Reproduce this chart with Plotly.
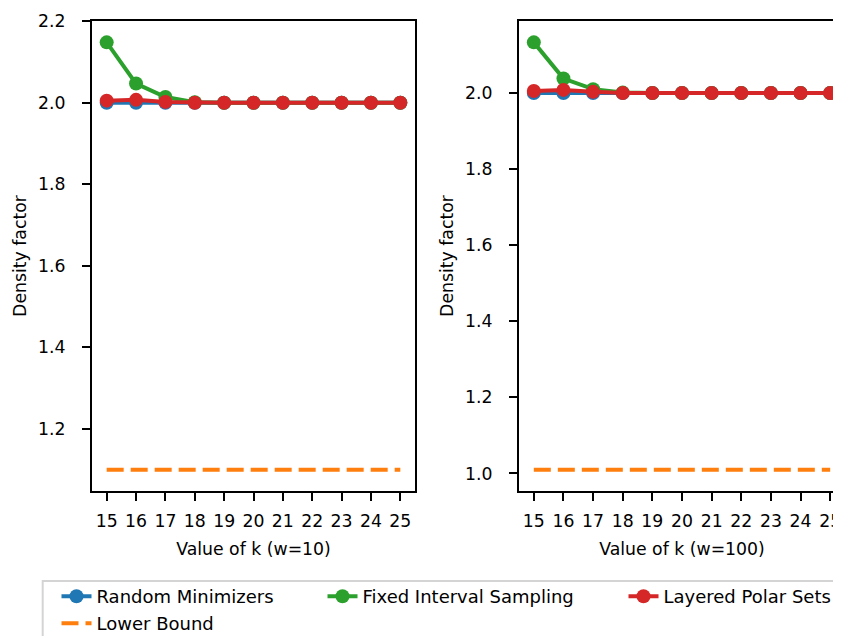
import plotly.graph_objects as go

k_values = [15, 16, 17, 18, 19, 20, 21, 22, 23, 24, 25]

# w = 10
random_w10 = [2.000, 2.000, 2.000, 2.000, 2.000, 2.000, 2.000, 2.000, 2.000, 2.000, 2.000]
fixed_w10 = [2.148, 2.047, 2.014, 2.001, 2.000, 2.000, 2.000, 2.000, 2.000, 2.000, 2.000]
polar_w10 = [2.005, 2.007, 2.002, 2.000, 2.000, 2.000, 2.000, 2.000, 2.000, 2.000, 2.000]
lower_w10 = [1.1] * 11

# w = 100
random_w100 = [2.000, 2.000, 2.000, 2.000, 2.000, 2.000, 2.000, 2.000, 2.000, 2.000, 2.000]
fixed_w100 = [2.133, 2.038, 2.010, 2.001, 2.000, 2.000, 2.000, 2.000, 2.000, 2.000, 2.000]
polar_w100 = [2.005, 2.008, 2.003, 2.000, 2.000, 2.000, 2.000, 2.000, 2.000, 2.000, 2.000]
lower_w100 = [1.01] * 11

series_names = ["Random Minimizers", "Fixed Interval Sampling", "Layered Polar Sets", "Lower Bound"]
colors = ["#1f77b4", "#2ca02c", "#d62728", "#ff7f0e"]
x_titles = ["Value of k (w=10)", "Value of k (w=100)"]
y_title = "Density factor"
yticks_w10 = [1.2, 1.4, 1.6, 1.8, 2.0, 2.2]
yticks_w100 = [1.0, 1.2, 1.4, 1.6, 1.8, 2.0]

W, H = 841, 636
OFF = 8  # page body margin offset
FONT = "DejaVu Sans"
FS = 17.3


def fx(xwin):
    return (xwin - OFF) / W


plot_top, plot_bot = 21 - OFF, 491 - OFF
ph = plot_bot - plot_top


def fy(ywin):
    return (plot_bot - (ywin - OFF)) / ph


fig = go.Figure()

panels = [
    (random_w10, fixed_w10, polar_w10, lower_w10, "x", "y", True),
    (random_w100, fixed_w100, polar_w100, lower_w100, "x2", "y2", False),
]
legend_widths = [221, 256, 190]
for rnd, fix, pol, low, xa, ya, show in panels:
    for i, vals in enumerate([rnd, fix, pol]):
        fig.add_trace(go.Scatter(
            x=k_values, y=vals, mode="lines+markers", name=series_names[i],
            line=dict(color=colors[i], width=4),
            marker=dict(color=colors[i], size=14),
            xaxis=xa, yaxis=ya, showlegend=show, legend="legend",
            legendwidth=legend_widths[i],
        ))
    fig.add_trace(go.Scatter(
        x=k_values, y=low, mode="lines", name=series_names[3],
        line=dict(color=colors[3], width=4, dash="17px,7px"),
        xaxis=xa, yaxis=ya, showlegend=show, legend="legend2",
    ))


def yrange(*arrs):
    lo = min(min(a) for a in arrs)
    hi = max(max(a) for a in arrs)
    m = 0.05 * (hi - lo)
    return [lo - m, hi + m]


axis_common = dict(
    showline=True, linecolor="black", linewidth=2,
    ticks="outside", ticklen=8, tickwidth=2, tickcolor="black",
    showgrid=False, zeroline=False, mirror=True,
    tickfont=dict(family=FONT, size=FS, color="black"),
)

fig.update_layout(
    width=W, height=H,
    margin=dict(l=0, r=0, t=plot_top, b=H - plot_bot, autoexpand=False),
    plot_bgcolor="white", paper_bgcolor="white",
    font=dict(family=FONT, size=FS, color="black"),
    xaxis=dict(domain=[fx(92), fx(415)], range=[14.5, 25.5], tickvals=k_values,
               anchor="y", ticklabelstandoff=5,
               title=dict(text=x_titles[0], font=dict(family=FONT, size=FS), standoff=13),
               **axis_common),
    yaxis=dict(domain=[0, 1], range=yrange(random_w10, fixed_w10, polar_w10, lower_w10),
               tickvals=yticks_w10, tickformat=".1f", anchor="x", ticklabelstandoff=13,
               title=dict(text=y_title, font=dict(family=FONT, size=FS), standoff=7),
               **axis_common),
    xaxis2=dict(domain=[fx(519), fx(845)], range=[14.5, 25.5], tickvals=k_values,
                anchor="y2", ticklabelstandoff=5,
                title=dict(text=x_titles[1], font=dict(family=FONT, size=FS), standoff=13),
                **axis_common),
    yaxis2=dict(domain=[0, 1], range=yrange(random_w100, fixed_w100, polar_w100, lower_w100),
                tickvals=yticks_w100, tickformat=".1f", anchor="x2", ticklabelstandoff=13,
                title=dict(text=y_title, font=dict(family=FONT, size=FS), standoff=7),
                **axis_common),
    legend=dict(orientation="h", x=fx(76.5 - 20), xanchor="left",
                y=fy(578), yanchor="top",
                bgcolor="rgba(0,0,0,0)", borderwidth=0,
                font=dict(family=FONT, size=18, color="black")),
    legend2=dict(orientation="h", x=fx(76.5 - 20), xanchor="left",
                 y=fy(605), yanchor="top",
                 bgcolor="rgba(0,0,0,0)", borderwidth=0,
                 font=dict(family=FONT, size=18, color="black")),
    shapes=[dict(type="rect", xref="paper", yref="paper",
                 x0=fx(42.7), x1=1.1, y0=fy(581), y1=fy(660),
                 line=dict(color="#d4d4d4", width=2), fillcolor="white", layer="below")],
)

fig.write_html("out.html")
